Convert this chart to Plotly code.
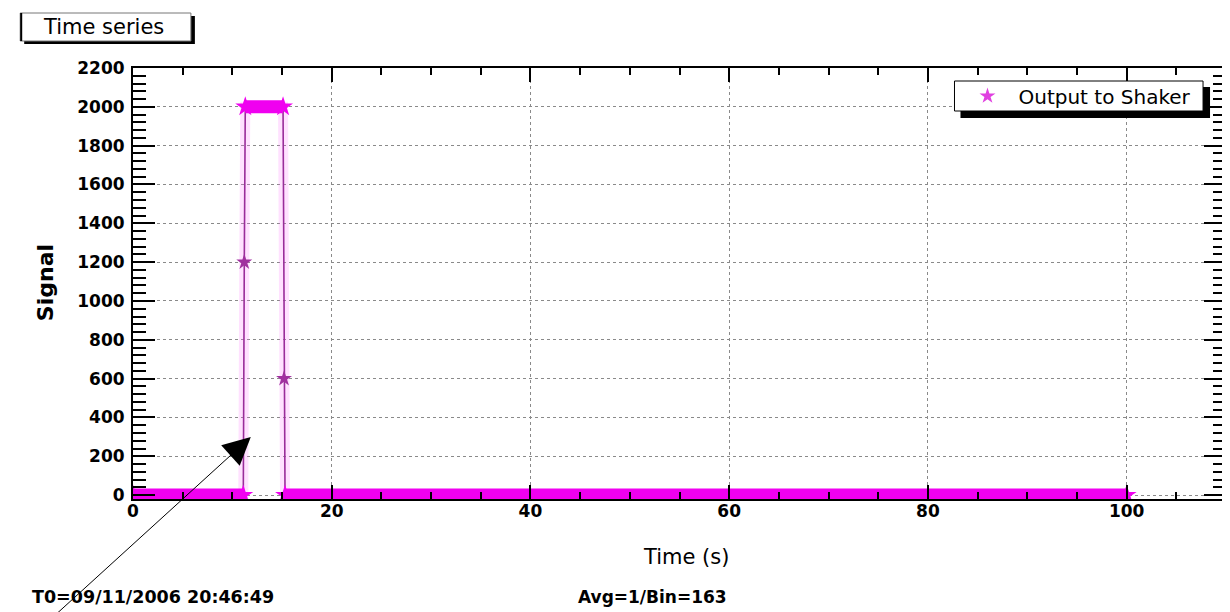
import plotly.graph_objects as go

# ---- data ----
time_s = [0, 11.1, 11.2, 11.3, 15.1, 15.2, 15.3, 100]
signal = [0, 0, 1200, 2000, 2000, 600, 0, 0]
series_name = "Output to Shaker"
x_range = [0, 110]
y_range = [-20, 2200]

W, H = 1230, 612
L, R, T, B = 125, 10, 60, 121
PW, PH = W - L - R, H - T - B


def px(p):
    return (p - L) / PW


def py(p):
    return (H - B - p) / PH


# split into flat runs (drawn as a dense band of markers) and transition points
run_x, run_y, trans_x, trans_y = [], [], [], []
i = 0
n = len(time_s)
while i < n:
    j = i
    while j + 1 < n and signal[j + 1] == signal[i]:
        j += 1
    if j > i:
        run_x += [time_s[i], time_s[j], None]
        run_y += [signal[i], signal[j], None]
    else:
        trans_x.append(time_s[i])
        trans_y.append(signal[i])
    i = j + 1

fig = go.Figure()
fig.add_trace(go.Scatter(x=time_s, y=signal, mode="lines",
                         line=dict(color="rgba(255,120,255,0.22)", width=10),
                         hoverinfo="skip", showlegend=False))
fig.add_trace(go.Scatter(x=time_s, y=signal, mode="lines",
                         line=dict(color="#9a2c9a", width=1.6),
                         showlegend=False))
fig.add_trace(go.Scatter(x=run_x, y=run_y, mode="lines+markers",
                         line=dict(color="#f000f0", width=13),
                         marker=dict(symbol="star", size=15, color="#f000f0"),
                         showlegend=False))
fig.add_trace(go.Scatter(x=trans_x, y=trans_y, mode="markers",
                         marker=dict(symbol="star", size=12, color="#a0309f"),
                         showlegend=False))
fig.add_trace(go.Scatter(x=[None], y=[None], mode="markers", name=series_name,
                         marker=dict(symbol="star", size=12, color="#e040e0")))

tickfont = dict(family="DejaVu Sans", size=17, color="black", weight="bold")
axis_common = dict(showline=True, linecolor="black", linewidth=2, mirror="allticks",
                   ticks="inside", tickcolor="black", showgrid=True,
                   gridcolor="#8a8a8a", griddash="dot", gridwidth=1,
                   zeroline=False, tickfont=tickfont)

fig.update_xaxes(range=x_range, dtick=20, tick0=0, ticklen=14, tickwidth=1.5,
                 minor=dict(dtick=5, ticklen=7, ticks="inside", tickcolor="black", showgrid=False),
                 **axis_common)
fig.update_yaxes(range=y_range, dtick=200, tick0=0, ticklen=22, tickwidth=1.5,
                 minor=dict(dtick=40, ticklen=13, ticks="inside", tickcolor="black", showgrid=False),
                 **axis_common)
try:
    fig.update_xaxes(ticklabelstandoff=-4)
except Exception:
    pass
try:
    fig.update_yaxes(ticklabelstandoff=3)
except Exception:
    pass

shapes = [
    # title pave shadow + box
    dict(type="rect", xref="paper", yref="paper", x0=px(16), x1=px(187), y0=py(8), y1=py(36),
         fillcolor="black", line=dict(width=0)),
    dict(type="rect", xref="paper", yref="paper", x0=px(12), x1=px(183), y0=py(5), y1=py(33),
         fillcolor="white", line=dict(color="#777", width=1)),
    dict(type="line", xref="paper", yref="paper", x0=px(13), x1=px(13), y0=py(5), y1=py(33),
         line=dict(color="black", width=2)),
    # legend shadow + box
    dict(type="rect", xref="paper", yref="paper", x0=px(954), x1=px(1204), y0=py(79), y1=py(110),
         fillcolor="black", line=dict(width=0)),
    dict(type="rect", xref="paper", yref="paper", x0=px(948), x1=px(1197), y0=py(73), y1=py(103),
         fillcolor="white", line=dict(color="black", width=1)),
]

annotations = [
    dict(text="Time series", xref="paper", yref="paper", x=px(95), y=py(19),
         xanchor="center", yanchor="middle", showarrow=False,
         font=dict(family="DejaVu Sans", size=21, color="black")),
    dict(text="Signal", xref="paper", yref="paper", x=px(37), y=py(275), textangle=-90,
         xanchor="center", yanchor="middle", showarrow=False,
         font=dict(family="DejaVu Sans", size=22, color="black", weight="bold")),
    dict(text="Time (s)", xref="paper", yref="paper", x=px(724), y=py(549),
         xanchor="right", yanchor="middle", showarrow=False,
         font=dict(family="DejaVu Sans", size=21, color="black")),
    dict(text="T0=09/11/2006 20:46:49", xref="paper", yref="paper", x=px(22), y=py(589),
         xanchor="left", yanchor="middle", showarrow=False,
         font=dict(family="DejaVu Sans", size=17.5, color="black", weight="bold")),
    dict(text="Avg=1/Bin=163", xref="paper", yref="paper", x=px(722), y=py(589),
         xanchor="right", yanchor="middle", showarrow=False,
         font=dict(family="DejaVu Sans", size=17, color="black", weight="bold")),
    dict(text="", xref="paper", yref="paper", x=px(243), y=py(429),
         ax=-201, ay=183, showarrow=True, arrowhead=2, arrowsize=5.5, arrowwidth=1,
         arrowcolor="black"),
]

fig.update_layout(
    width=W, height=H,
    margin=dict(l=L, r=R, t=T, b=B, pad=0),
    paper_bgcolor="white", plot_bgcolor="white",
    font=dict(family="DejaVu Sans", color="black"),
    showlegend=True,
    legend=dict(x=px(950), y=py(88), xanchor="left", yanchor="middle",
                bgcolor="rgba(0,0,0,0)", borderwidth=0,
                font=dict(family="DejaVu Sans", size=20, color="black"),
                itemwidth=52),
    shapes=shapes,
    annotations=annotations,
)

fig.write_html("out.html")
